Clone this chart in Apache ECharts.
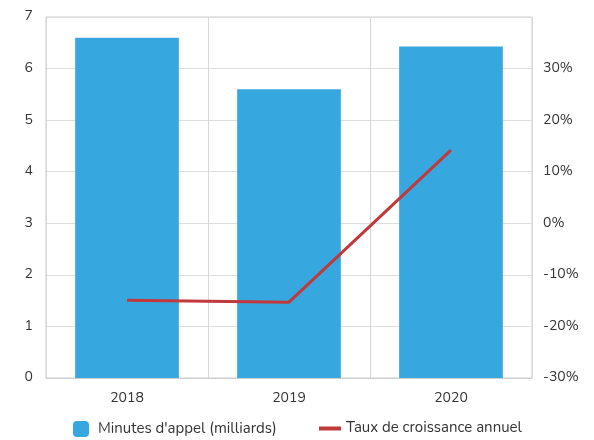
<!DOCTYPE html>
<html><head><meta charset="utf-8">
<script src="https://cdn.jsdelivr.net/npm/echarts@6/dist/echarts.min.js"></script>
<style>html,body{margin:0;padding:0;background:#fff}#c{width:594px;height:440px}</style>
</head><body><div id="c"></div>
<script>
const categories = ['2018', '2019', '2020'];
const minutes = [6.6, 5.6, 6.43];
const growth = [-14.9, -15.3, 14.2];
const leftTicks = [0, 7, 1];
const rightTicks = [-30, 40, 10];
const font = 'Nunito, "Open Sans", Lato, sans-serif';
const chart = echarts.init(document.getElementById('c'));
chart.setOption({
  animation: false,
  textStyle: { fontFamily: font },
  grid: { left: 46, right: 62, top: 17, bottom: 62, show: true, borderColor: '#cfcfcf', borderWidth: 1 },
  legend: [
    { top: 416, left: 68, itemWidth: 16, itemHeight: 16,
      textStyle: { fontSize: 15, color: '#333', fontFamily: font, padding: [0, 0, 0, 4] },
      data: [{ name: "Minutes d'appel (milliards)", icon: 'roundRect' }] },
    { top: 416, left: 314, itemWidth: 22, itemHeight: 16,
      textStyle: { fontSize: 15, color: '#333', fontFamily: font, padding: [0, 0, 0, 0] },
      data: [{ name: 'Taux de croissance annuel', icon: 'path://M0,6 L22,6 L22,10 L0,10 Z', itemStyle: { color: '#c0393b' } }] }
  ],
  xAxis: {
    type: 'category', data: categories,
    axisLine: { lineStyle: { color: '#cfcfcf' } },
    axisTick: { show: false },
    splitLine: { show: true, lineStyle: { color: '#d8d8d8' } },
    axisLabel: { fontSize: 14, color: '#333', margin: 14, fontFamily: font }
  },
  yAxis: [
    { type: 'value', min: leftTicks[0], max: leftTicks[1], interval: leftTicks[2],
      axisLine: { show: false }, axisTick: { show: false },
      splitLine: { lineStyle: { color: '#dedede' } },
      axisLabel: { fontSize: 14, color: '#333', margin: 13, fontFamily: font } },
    { type: 'value', min: rightTicks[0], max: rightTicks[1], interval: rightTicks[2],
      axisLine: { show: false }, axisTick: { show: false }, splitLine: { show: false },
      axisLabel: { fontSize: 14, color: '#333', margin: 11, fontFamily: font,
        formatter: v => v === 40 ? '' : v + '%' } }
  ],
  series: [
    { name: "Minutes d'appel (milliards)", type: 'bar', data: minutes, barWidth: '64%',
      itemStyle: { color: '#36a7df' } },
    { name: 'Taux de croissance annuel', type: 'line', yAxisIndex: 1, data: growth,
      symbol: 'none', lineStyle: { color: '#c0393b', width: 3 }, itemStyle: { color: '#c0393b' } }
  ]
});
</script></body></html>
